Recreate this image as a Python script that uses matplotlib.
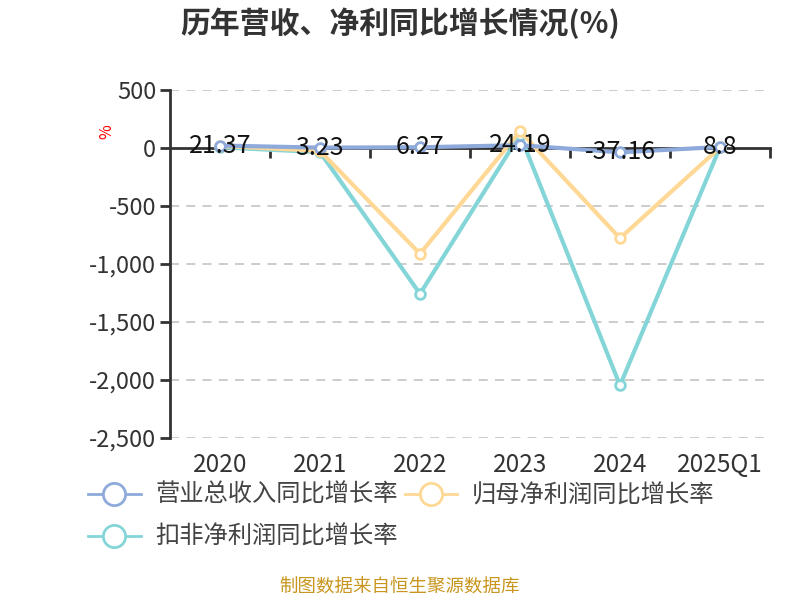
import matplotlib.pyplot as plt
from matplotlib.lines import Line2D
import matplotlib.transforms as mtransforms

plt.rcParams['font.family'] = ['Noto Sans CJK SC', 'DejaVu Sans']

# data
years = ['2020', '2021', '2022', '2023', '2024', '2025Q1']
revenue_yoy = [21.37, 3.23, 6.27, 24.19, -37.16, 8.8]
net_profit_yoy = [18, -25, -912, 145, -778, 5]
deducted_profit_yoy = [6, -36, -1257, 115, -2046, 6]
y_ticks = [500, 0, -500, -1000, -1500, -2000, -2500]

blue = '#8eaadb'
yellow = '#fed894'
cyan = '#84d5d8'

fig = plt.figure(figsize=(8, 6), dpi=100)
ax = fig.add_axes([0.2125, 0.27, 0.75, 0.58])

x = list(range(len(years)))
series = [
    (deducted_profit_yoy, cyan, '扣非净利润同比增长率'),
    (net_profit_yoy, yellow, '归母净利润同比增长率'),
    (revenue_yoy, blue, '营业总收入同比增长率'),
]
for vals, c, name in series:
    ax.plot(x, vals, color=c, lw=3, marker='o', ms=7, mfc='white',
            mec=c, mew=2, zorder=3)

# labels on the revenue series
for xi, v in zip(x, revenue_yoy):
    ax.text(xi, v, f'{v:g}', ha='center', va='center', fontsize=18,
            color='#111111', zorder=5)

ax.set_xlim(-0.5, 5.5)
ax.set_ylim(-2500, 500)

# horizontal dashed grid
for t in y_ticks:
    if t != 0:
        ax.axhline(t, color='#c8c8c8', lw=1.3, ls=(0, (5, 4)), zorder=1)

ax.set_yticks(y_ticks)
ax.set_yticklabels([f'{t:,}' for t in y_ticks], fontsize=17, color='#333333')
ax.tick_params(axis='y', length=7, width=2, color='#333333', pad=3)

# x axis sits at zero with ticks between categories
ax.spines['bottom'].set_position(('data', 0))
ax.spines['bottom'].set_color('#333333')
ax.spines['bottom'].set_linewidth(2)
ax.spines['left'].set_color('#333333')
ax.spines['left'].set_linewidth(2)
ax.spines['top'].set_visible(False)
ax.spines['right'].set_visible(False)
ax.set_xticks([i + 0.5 for i in range(len(years))])
ax.set_xticklabels([])
ax.tick_params(axis='x', length=7, width=2, color='#333333', direction='out')

trans = mtransforms.blended_transform_factory(ax.transData, ax.transAxes)
for xi, lab in zip(x, years):
    ax.text(xi, -0.078, lab, transform=trans, ha='center', va='center',
            fontsize=17.5, color='#333333')

fig.text(0.133, 0.78, '%', color='red', fontsize=11.5, rotation=90,
         ha='center', va='center')

fig.text(0.5, 0.962, '历年营收、净利同比增长情况(%)', ha='center', va='center',
         fontsize=21.5, fontweight='bold', color='#333333')

handles = [
    Line2D([], [], color=blue, lw=2, marker='o', ms=16, mfc='white', mec=blue, mew=2),
    Line2D([], [], color=cyan, lw=2, marker='o', ms=16, mfc='white', mec=cyan, mew=2),
    Line2D([], [], color=yellow, lw=2, marker='o', ms=16, mfc='white', mec=yellow, mew=2),
]
labels = ['营业总收入同比增长率', '扣非净利润同比增长率', '归母净利润同比增长率']
fig.legend(handles, labels, loc='upper left', bbox_to_anchor=(0.083, 0.233),
           ncol=2, frameon=False, fontsize=17.5, handlelength=2.15,
           handletextpad=0.6, columnspacing=0.3, labelspacing=0.66,
           labelcolor='#444444')

fig.text(0.5, 0.02, '制图数据来自恒生聚源数据库', ha='center', va='center',
         fontsize=13.3, color='#c8961e')

fig.savefig('out.png', dpi=100)
